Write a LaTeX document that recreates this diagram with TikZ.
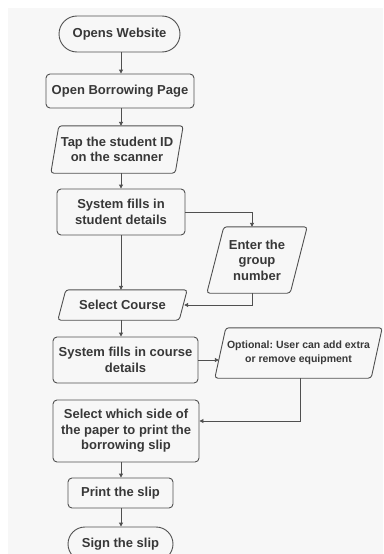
\documentclass[tikz,border=0pt]{standalone}
\usepackage{fontspec}
\setmainfont{Liberation Sans}
\usetikzlibrary{arrows.meta,calc}
\definecolor{bg}{HTML}{F7F7F7}
\definecolor{ln}{HTML}{505050}
\definecolor{tx}{HTML}{383838}
\frenchspacing
\newcommand\paral[2]{\draw[ln, line width=0.9pt, rounded corners=3pt] ([xshift=#2]#1.north west) -- (#1.north east) -- ([xshift=-#2]#1.south east) -- (#1.south west) -- cycle;}
\begin{document}
\begin{tikzpicture}[x=1pt,y=-1pt,
  mainfont/.style={font=\bfseries\fontsize{13}{15.5}\selectfont},
  box/.style={draw=ln, line width=0.9pt, rounded corners=4pt, align=center, inner sep=0pt, mainfont, text=tx},
  io/.style={align=center, inner sep=0pt, mainfont, text=tx},
  arr/.style={draw=ln, line width=0.9pt, -{Triangle[length=4pt,width=4pt]}},
]
\useasboundingbox (0,0) rectangle (383,554);
\fill[white] (0,0) rectangle (383,554);
\fill[bg] (8,8) rectangle (383,554);
\coordinate (spine) at (121,0);
\coordinate (gx) at (252,0);
\coordinate (ox) at (300,0);
\coordinate (oy) at (0,421);

\node[box, minimum width=121pt, minimum height=36pt, rounded corners=18pt] (start) at (119.5,34) {Opens Website};
\node[box, minimum width=148pt, minimum height=34pt] (borrow) at (120,91) {Open Borrowing Page};
\node[io, minimum width=132pt, minimum height=47pt] (tap) at (117,149.5) {Tap the student ID\\on the scanner};
\node[box, minimum width=128pt, minimum height=46pt] (sysstu) at (121,212) {System fills in\\student details};
\node[io, minimum width=100pt, minimum height=66pt] (group) at (257,260) {Enter the\\group\\number};
\node[io, minimum width=129pt, minimum height=30pt] (course) at (122.5,305) {Select Course};
\node[box, minimum width=145pt, minimum height=46pt] (syscourse) at (125.5,360) {System fills in course\\details};
\node[io, minimum width=167pt, minimum height=50pt, font=\bfseries\fontsize{10.5}{14}\selectfont] (opt) at (298.5,353) {Optional: User can add extra\\or remove equipment};
\node[box, minimum width=146pt, minimum height=62pt] (side) at (126,431) {Select which side of\\the paper to print the\\borrowing slip};
\node[box, minimum width=105pt, minimum height=30pt] (print) at (120.5,493) {Print the slip};
\node[box, minimum width=105pt, minimum height=34pt, rounded corners=17pt] (sign) at (120.5,544) {Sign the slip};

\paral{tap}{8pt}
\paral{group}{17pt}
\paral{course}{8pt}
\paral{opt}{11pt}

\draw[arr] (start.south -| spine) -- (borrow.north -| spine);
\draw[arr] (borrow.south -| spine) -- (tap.north -| spine);
\draw[arr] (tap.south -| spine) -- (sysstu.north -| spine);
\draw[arr] (sysstu.east) -| (group.north -| gx);
\draw[arr] (sysstu.south -| spine) -- (course.north -| spine);
\draw[arr] (group.south -| gx) |- ([xshift=-3pt]course.east);
\draw[arr] (course.south -| spine) -- (syscourse.north -| spine);
\draw[arr] (syscourse.east) -- ([xshift=4pt]opt.west |- syscourse.east);
\draw[arr] (opt.south -| ox) |- (side.east |- oy);
\draw[arr] (side.south -| spine) -- (print.north -| spine);
\draw[arr] (print.south -| spine) -- (sign.north -| spine);
\end{tikzpicture}
\end{document}
